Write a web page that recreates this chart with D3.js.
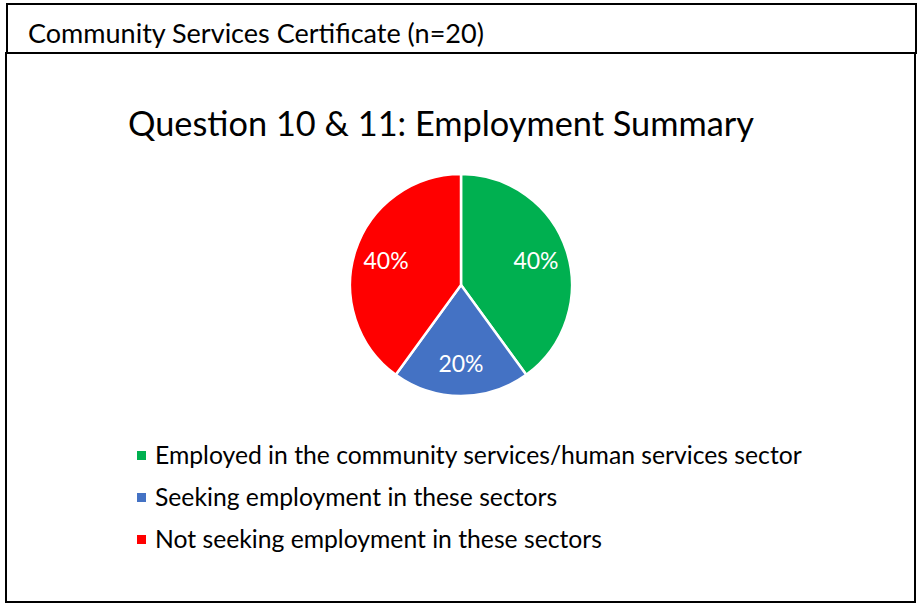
<!DOCTYPE html>
<html>
<head>
<meta charset="utf-8">
<script src="https://cdn.jsdelivr.net/npm/d3@7"></script>
<style>
  html, body { margin: 0; padding: 0; background: #fff; }
  svg { display: block; }
  text { font-family: Lato, "Open Sans", "DejaVu Sans", sans-serif; }
</style>
</head>
<body>
<svg id="chart" width="919" height="605"></svg>
<script>
// Employment summary for the Community Services Certificate cohort
const headerText = "Community Services Certificate (n=20)";
const chartTitle = "Question 10 & 11: Employment Summary";
const categories = [
  "Employed in the community services/human services sector",
  "Seeking employment in these sectors",
  "Not seeking employment in these sectors"
];
const shares = [40, 20, 40];
const sliceColors = ["#00B050", "#4472C4", "#FF0000"];

const svg = d3.select("#chart");

// shrink or grow a text node's font size so it spans the given width
function fitWidth(sel, targetWidth) {
  const node = sel.node();
  const size = parseFloat(sel.attr("font-size"));
  const w = node.getComputedTextLength();
  sel.attr("font-size", (size * targetWidth / w).toFixed(2));
}

// header strip and main frame
svg.append("rect")
  .attr("x", 7).attr("y", 4).attr("width", 909).attr("height", 49)
  .attr("fill", "none").attr("stroke", "#000").attr("stroke-width", 2);
svg.append("rect")
  .attr("x", 6).attr("y", 53).attr("width", 909).attr("height", 549)
  .attr("fill", "none").attr("stroke", "#000").attr("stroke-width", 2);

const header = svg.append("text")
  .attr("x", 28).attr("y", 43)
  .attr("font-size", 24).attr("fill", "#000")
  .text(headerText);
fitWidth(header, 456);

const title = svg.append("text")
  .attr("x", 128).attr("y", 136)
  .attr("font-size", 32).attr("fill", "#000")
  .text(chartTitle);
fitWidth(title, 626);

// pie
const cx = 461, cy = 285, radius = 111;
const color = d3.scaleOrdinal().domain(categories).range(sliceColors);
const pie = d3.pie().sort(null).value(d => d.value);
const data = categories.map((c, i) => ({ name: c, value: shares[i] }));
const arcs = pie(data);
const arc = d3.arc().innerRadius(0).outerRadius(radius);
const labelArc = d3.arc().innerRadius(radius * 0.71).outerRadius(radius * 0.71);

const g = svg.append("g").attr("transform", `translate(${cx},${cy})`);
g.selectAll("path.slice")
  .data(arcs)
  .join("path")
  .attr("class", "slice")
  .attr("d", arc)
  .attr("fill", d => color(d.data.name))
  .attr("stroke", "#fff")
  .attr("stroke-width", 2.5)
  .attr("stroke-linejoin", "round");

const total = d3.sum(shares);
g.selectAll("text.pct")
  .data(arcs)
  .join("text")
  .attr("class", "pct")
  .attr("transform", d => `translate(${labelArc.centroid(d)})`)
  .attr("text-anchor", "middle")
  .attr("dy", "0.35em")
  .attr("font-size", 23)
  .attr("fill", "#fff")
  .text(d => Math.round(d.data.value / total * 100) + "%");

// legend
const legendY = d3.scalePoint().domain(categories).range([456, 540]);
const legend = svg.append("g");
const rows = legend.selectAll("g.row")
  .data(categories)
  .join("g")
  .attr("class", "row")
  .attr("transform", d => `translate(0,${legendY(d)})`);
rows.append("rect")
  .attr("x", 137).attr("y", -5).attr("width", 9).attr("height", 9)
  .attr("fill", d => color(d));
const legendLabels = rows.append("text")
  .attr("x", 155).attr("y", 8)
  .attr("font-size", 22).attr("fill", "#000")
  .text(d => d);
fitWidth(d3.select(legendLabels.nodes()[0]), 647);
const legendSize = d3.select(legendLabels.nodes()[0]).attr("font-size");
legendLabels.attr("font-size", legendSize);
</script>
</body>
</html>
